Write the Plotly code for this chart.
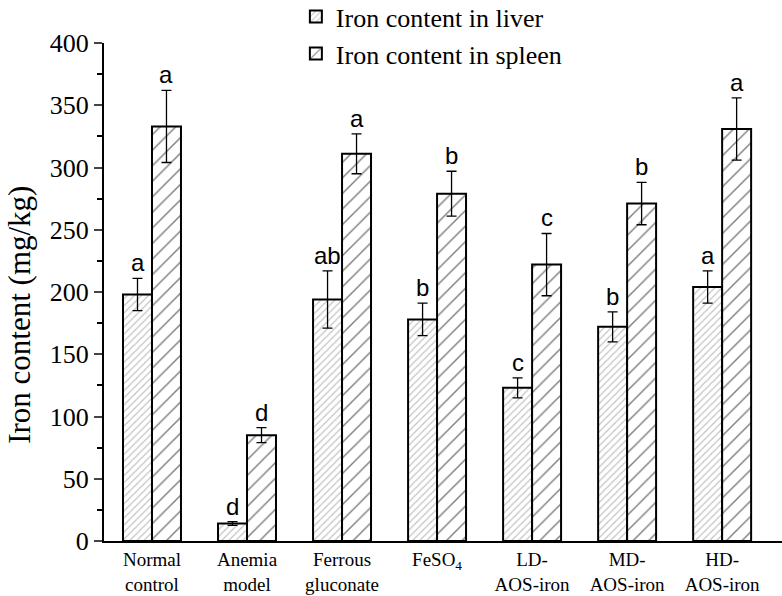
import plotly.graph_objects as go

categories = ["Normal<br>control", "Anemia<br>model", "Ferrous<br>gluconate", "FeSO<sub>4</sub>",
              "LD-<br>AOS-iron", "MD-<br>AOS-iron", "HD-<br>AOS-iron"]
liver = [198, 14, 194, 178, 123, 172, 204]
liver_err = [13, 1.5, 23, 13, 8, 12, 13]
spleen = [333, 85, 311, 279, 222, 271, 331]
spleen_err = [29, 6, 16, 18, 25, 17, 25]
liver_letters = ["a", "d", "ab", "b", "c", "b", "a"]
spleen_letters = ["a", "d", "a", "b", "c", "b", "a"]
yticks = [0, 50, 100, 150, 200, 250, 300, 350, 400]

serif = "Liberation Serif"
fig = go.Figure()
fig.add_trace(go.Bar(
    x=list(range(7)), y=liver, name="Iron content in liver",
    marker=dict(color="white", line=dict(color="black", width=2),
                pattern=dict(shape="/", fgcolor="#8a8a8a", bgcolor="white", size=5, solidity=0.25)),
    error_y=dict(type="data", array=liver_err, color="black", thickness=1.3, width=5),
    offsetgroup="l"))
fig.add_trace(go.Bar(
    x=list(range(7)), y=spleen, name="Iron content in spleen",
    marker=dict(color="white", line=dict(color="black", width=2),
                pattern=dict(shape="/", fgcolor="black", bgcolor="white", size=11, solidity=0.13)),
    error_y=dict(type="data", array=spleen_err, color="black", thickness=1.3, width=5),
    offsetgroup="s"))

for i in range(7):
    fig.add_annotation(x=i - 0.1525, y=liver[i] + liver_err[i], text=liver_letters[i],
                       showarrow=False, yanchor="bottom", yshift=0,
                       font=dict(family="Liberation Sans", size=24, color="black"))
    fig.add_annotation(x=i + 0.1525, y=spleen[i] + spleen_err[i], text=spleen_letters[i],
                       showarrow=False, yanchor="bottom", yshift=0,
                       font=dict(family="Liberation Sans", size=24, color="black"))

fig.add_annotation(text="Iron content (mg/kg)", textangle=-90, xref="paper", yref="paper",
                   x=-0.124, y=0.454, xanchor="center", yanchor="middle", showarrow=False,
                   font=dict(family=serif, size=31, color="black"))

fig.update_layout(
    width=782, height=596, plot_bgcolor="white", paper_bgcolor="white",
    margin=dict(l=104, r=0, t=43, b=55, autoexpand=False),
    barmode="group", bargap=0.39, bargroupgap=0,
    font=dict(family=serif, color="black"),
    showlegend=True,
    legend=dict(x=0.283, y=1.10, xanchor="left", yanchor="top", font=dict(family=serif, size=26),
                bgcolor="rgba(0,0,0,0)", tracegroupgap=0),
    xaxis=dict(tickmode="array", tickvals=list(range(7)), ticktext=categories, range=[-0.505, 6.63],
               showline=True, linecolor="black", linewidth=2, ticks="", showgrid=False,
               tickfont=dict(family=serif, size=19), zeroline=False, automargin=False),
    yaxis=dict(range=[0, 400], tickvals=yticks, showline=True, linecolor="black", linewidth=2,
               ticks="outside", ticklen=8, tickwidth=2, showgrid=False, zeroline=False,
               tickfont=dict(family=serif, size=26), automargin=False,
               minor=dict(dtick=25, ticks="outside", ticklen=5, tickwidth=2, tickcolor="black")),
)
fig.write_html("out.html", config={"displayModeBar": False},
               post_script="document.body.style.margin='0';")
